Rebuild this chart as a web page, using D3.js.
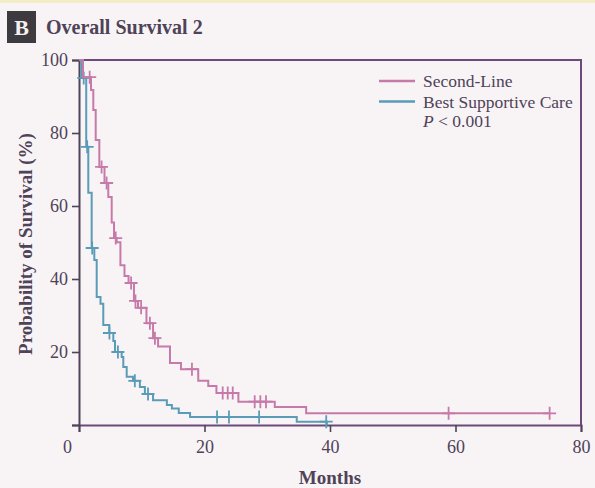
<!DOCTYPE html>
<html>
<head>
<meta charset="utf-8">
<script src="https://cdn.jsdelivr.net/npm/d3@7"></script>
<style>
    body { margin: 0; background: #f8f4f6; }
    svg { display: block; }
</style>
</head>
<body>
<svg class="chart"></svg>
<script>
// Kaplan-Meier drops: time (months) and survival after the drop (%)
var secondLineTimes = [0.64, 1.91, 2.28, 2.66, 3.24, 4.06, 4.67, 5.21, 5.58, 6.0, 6.6, 7.25, 7.9, 8.76, 9.4, 10.75, 11.8, 12.6, 14.5, 16.25, 19.0, 20.6, 21.9, 25.4, 31.2, 36.2];
var secondLineSurv = [95.3, 91.8, 86.3, 78.1, 70.7, 66.3, 62.5, 55.5, 51.2, 50.1, 43.8, 40.8, 38.9, 34.0, 32.1, 27.9, 23.8, 21.5, 17.0, 15.3, 12.1, 10.7, 8.8, 6.4, 4.9, 3.2];
var secondLineCensor = [1.7, 3.6, 4.4, 5.85, 8.3, 9.0, 9.9, 11.3, 12.1, 18.0, 22.9, 23.7, 24.5, 28.0, 28.9, 29.8, 58.9, 75.0];
var secondLineEnd = 75.0;

var bscTimes = [0.4, 1.15, 1.48, 2.02, 2.44, 2.82, 3.43, 3.87, 4.83, 5.47, 5.74, 6.8, 7.06, 7.6, 8.6, 9.7, 10.5, 11.8, 14.0, 14.8, 15.9, 17.7, 34.7, 39.5];
var bscSurv = [95.1, 76.2, 63.6, 48.5, 45.2, 35.1, 33.2, 27.4, 25.2, 23.0, 20.0, 18.6, 15.9, 13.2, 12.1, 10.4, 8.5, 6.8, 5.5, 4.5, 3.3, 2.2, 0.9, 0];
var bscCensor = [0.75, 1.3, 2.1, 4.85, 6.2, 8.9, 11.0, 22.0, 23.9, 28.7, 39.4];
var bscEnd = 39.5;

var xTicks = [0, 20, 40, 60, 80];
var yTicks = [0, 20, 40, 60, 80, 100];
var seriesNames = ["Second-Line", "Best Supportive Care"];

var width = 595,
    height = 488,
    plotLeft = 79,
    plotRight = 581,
    plotTop = 60,
    plotBottom = 425,
    pink = "#c67aa9",
    blue = "#5a9bb8",
    ink = "#4f4358",
    serif = "Liberation Serif, DejaVu Serif, serif";

var svg = d3.select(".chart")
    .attr("width", width)
    .attr("height", height)
    .style("font-family", serif);

svg.append("rect")
    .attr("width", width)
    .attr("height", 3)
    .attr("fill", "#f4ecc4");

var x = d3.scaleLinear().domain([0, 80]).range([plotLeft, plotRight]);
var y = d3.scaleLinear().domain([0, 100]).range([plotBottom, plotTop]);

// title badge
svg.append("rect")
    .attr("x", 7)
    .attr("y", 11)
    .attr("width", 29)
    .attr("height", 32)
    .attr("fill", "#3d3a40");
svg.append("text")
    .attr("x", 21.5)
    .attr("y", 35)
    .attr("text-anchor", "middle")
    .attr("fill", "#f4f0f2")
    .attr("font-size", 22)
    .attr("font-weight", "bold")
    .text("B");
svg.append("text")
    .attr("x", 46)
    .attr("y", 34)
    .attr("fill", ink)
    .attr("font-size", 20)
    .attr("font-weight", "bold")
    .text("Overall Survival 2");

// frame (top and right)
svg.append("path")
    .attr("d", "M" + plotLeft + "," + plotTop + "H" + plotRight + "V" + plotBottom)
    .attr("fill", "none")
    .attr("stroke", "#6b4a7c")
    .attr("stroke-width", 2);

var xAxis = svg.append("g")
    .attr("transform", "translate(0," + plotBottom + ")")
    .call(d3.axisBottom(x).tickValues(xTicks).tickSize(7).tickPadding(8));

var yAxis = svg.append("g")
    .attr("transform", "translate(" + plotLeft + ",0)")
    .call(d3.axisLeft(y).tickValues(yTicks).tickSize(7).tickPadding(4)
        .tickFormat(function (d) { return d === 0 ? "" : d; }));

[xAxis, yAxis].forEach(function (g) {
    g.select(".domain").attr("stroke", ink).attr("stroke-width", 2);
    g.selectAll(".tick line").attr("stroke", ink).attr("stroke-width", 1.6);
    g.selectAll(".tick text")
        .attr("fill", ink)
        .attr("font-size", 18)
        .attr("font-family", serif);
});
xAxis.select(".domain").attr("stroke", "#6a4a78");
xAxis.selectAll(".tick text")
    .filter(function (d) { return d === 0; })
    .attr("dx", -12);

svg.append("text")
    .attr("x", x(40))
    .attr("y", 484)
    .attr("text-anchor", "middle")
    .attr("fill", ink)
    .attr("font-size", 19)
    .attr("font-weight", "bold")
    .text("Months");

svg.append("text")
    .attr("transform", "translate(32,244) rotate(-90)")
    .attr("text-anchor", "middle")
    .attr("fill", ink)
    .attr("font-size", 19)
    .attr("font-weight", "bold")
    .text("Probability of Survival (%)");

function stepPoints(times, surv, end) {
    var pts = [[0, 100]];
    times.forEach(function (t, i) { pts.push([t, surv[i]]); });
    pts.push([end, surv[surv.length - 1]]);
    return pts;
}

function survAt(times, surv, t) {
    var s = 100;
    times.forEach(function (ti, i) { if (ti <= t) s = surv[i]; });
    return s;
}

var line = d3.line()
    .x(function (d) { return x(d[0]); })
    .y(function (d) { return y(d[1]); })
    .curve(d3.curveStepAfter);

function drawCurve(times, surv, censor, end, color) {
    svg.append("path")
        .datum(stepPoints(times, surv, end))
        .attr("d", line)
        .attr("fill", "none")
        .attr("stroke", color)
        .attr("stroke-width", 2);

    var marks = svg.append("g");
    marks.selectAll("path")
        .data(censor)
        .enter()
        .append("path")
        .attr("d", function (t) {
            var cx = x(t), cy = y(survAt(times, surv, t - 0.001));
            return "M" + (cx - 6.5) + "," + cy + "H" + (cx + 6.5) +
                "M" + cx + "," + (cy - 6.5) + "V" + (cy + 6.5);
        })
        .attr("fill", "none")
        .attr("stroke", color)
        .attr("stroke-width", 1.8);
}

drawCurve(bscTimes, bscSurv, bscCensor, bscEnd, blue);
drawCurve(secondLineTimes, secondLineSurv, secondLineCensor, secondLineEnd, pink);

// legend
var legend = svg.append("g");
legend.selectAll("line")
    .data(seriesNames)
    .enter()
    .append("line")
    .attr("x1", 379)
    .attr("x2", 415)
    .attr("y1", function (d, i) { return 81 + i * 20.5; })
    .attr("y2", function (d, i) { return 81 + i * 20.5; })
    .attr("stroke", function (d, i) { return i === 0 ? pink : blue; })
    .attr("stroke-width", 2.5);
legend.selectAll("text")
    .data(seriesNames)
    .enter()
    .append("text")
    .attr("x", 423)
    .attr("y", function (d, i) { return 87 + i * 20.5; })
    .attr("fill", ink)
    .attr("font-size", 17.5)
    .text(function (d) { return d; });
var pText = legend.append("text")
    .attr("x", 423)
    .attr("y", 127)
    .attr("fill", ink)
    .attr("font-size", 17.5);
pText.append("tspan").attr("font-style", "italic").text("P");
pText.append("tspan").text(" < 0.001");
</script>
</body>
</html>
